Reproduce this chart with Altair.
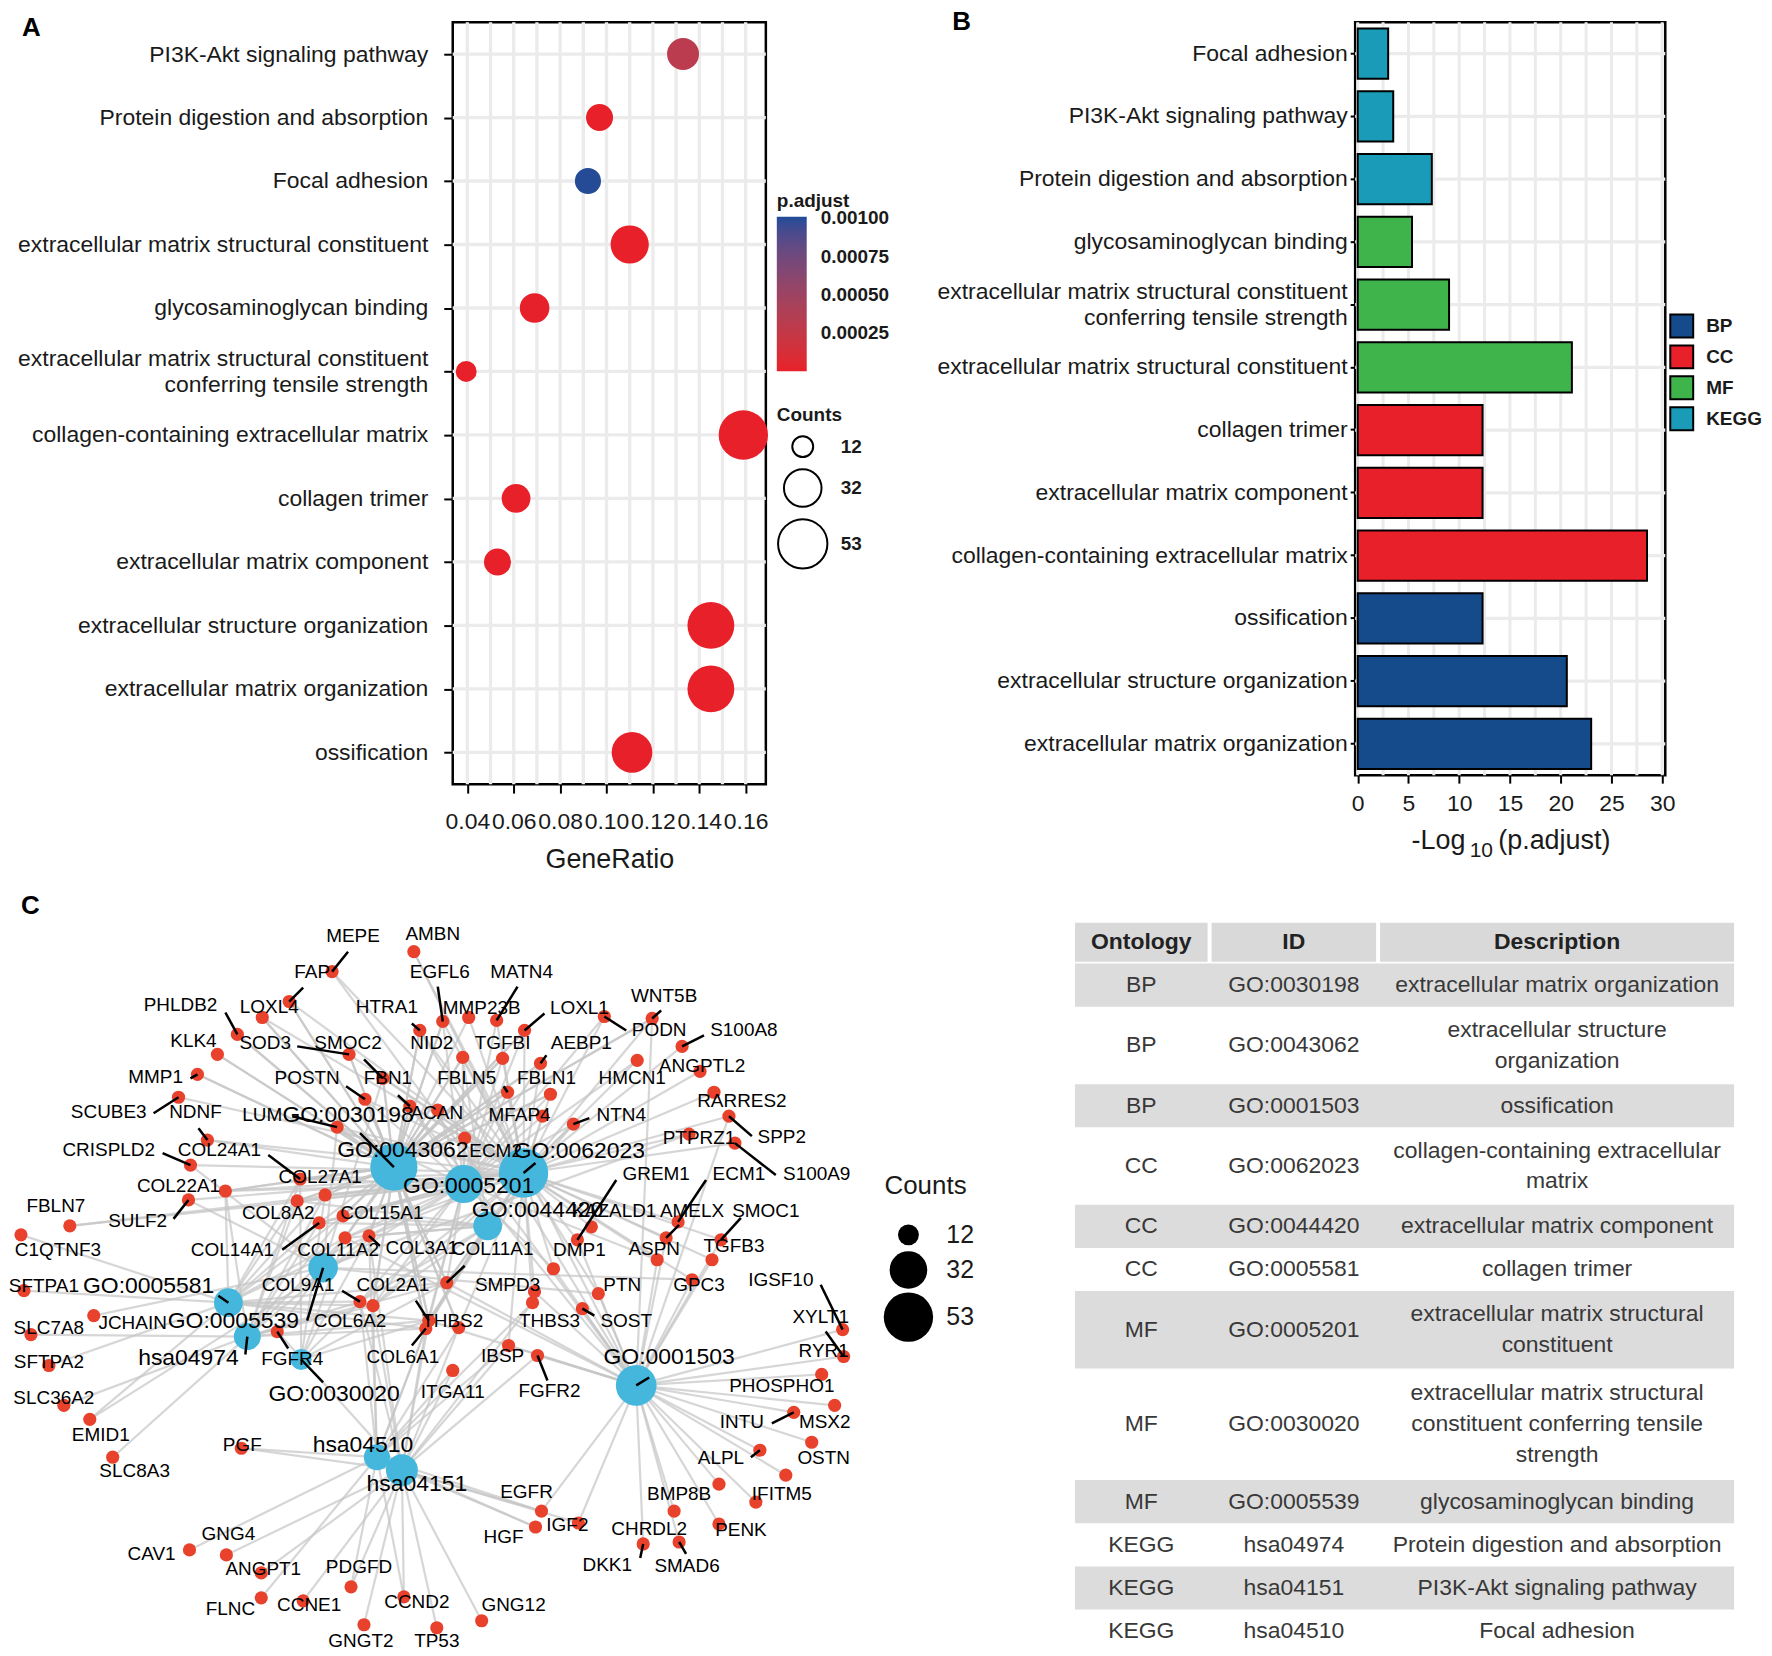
import math
import altair as alt
import pandas as pd

FONT = "Liberation Sans, Arial, Helvetica, sans-serif"
INK = "#1a1a1a"
GRID = "#EBEBEB"

# ======================= Panel A : dot plot =======================
a_terms = [
    "PI3K-Akt signaling pathway",
    "Protein digestion and absorption",
    "Focal adhesion",
    "extracellular matrix structural constituent",
    "glycosaminoglycan binding",
    "extracellular matrix structural constituent\nconferring tensile strength",
    "collagen-containing extracellular matrix",
    "collagen trimer",
    "extracellular matrix component",
    "extracellular structure organization",
    "extracellular matrix organization",
    "ossification",
]
a_gene_ratio = [0.133, 0.097, 0.092, 0.110, 0.069, 0.0395, 0.159, 0.061, 0.053, 0.145, 0.145, 0.111]
a_counts = [24, 18, 17, 33, 21, 12, 53, 20, 18, 48, 48, 37]
a_x_ticks = [0.04, 0.06, 0.08, 0.10, 0.12, 0.14, 0.16]
a_x_grid = [0.04, 0.05, 0.06, 0.07, 0.08, 0.09, 0.10, 0.11, 0.12, 0.13, 0.14, 0.15, 0.16]
a_padj_legend = [0.00025, 0.0005, 0.00075, 0.001]
a_count_legend = [12, 32, 53]

# ======================= Panel B : bar chart =======================
b_terms = [
    "Focal adhesion",
    "PI3K-Akt signaling pathway",
    "Protein digestion and absorption",
    "glycosaminoglycan binding",
    "extracellular matrix structural constituent\nconferring tensile strength",
    "extracellular matrix structural constituent",
    "collagen trimer",
    "extracellular matrix component",
    "collagen-containing extracellular matrix",
    "ossification",
    "extracellular structure organization",
    "extracellular matrix organization",
]
b_neglog = [3.0, 3.5, 7.3, 5.35, 9.0, 21.1, 12.3, 12.3, 28.5, 12.3, 20.6, 23.0]
b_ontology = ["KEGG", "KEGG", "KEGG", "MF", "MF", "MF", "CC", "CC", "CC", "BP", "BP", "BP"]
b_x_ticks = [0, 5, 10, 15, 20, 25, 30]
b_x_grid = [0, 2.5, 5, 7.5, 10, 12.5, 15, 17.5, 20, 22.5, 25, 27.5, 30]
ont_levels = ["BP", "CC", "MF", "KEGG"]
ont_colors = ["#154A8B", "#E8202A", "#3FB44A", "#1A9BB7"]

# ======================= Panel C : gene-concept network =======================
hub_ids = ["GO:0030198", "GO:0043062", "GO:0001503", "GO:0062023", "GO:0044420", "GO:0005581",
           "GO:0005201", "GO:0030020", "GO:0005539", "hsa04974", "hsa04151", "hsa04510"]
hub_codes = ["o", "s", "b", "c", "m", "t", "f", "n", "g", "p", "k", "a"]
hub_x = [384, 384, 627, 514, 478, 218, 454, 291, 313, 237, 392, 367]
hub_y = [1164, 1164, 1383, 1170, 1223, 1300, 1181, 1357, 1265, 1334, 1468, 1455]
hub_counts = [48, 48, 37, 53, 20, 20, 33, 12, 21, 18, 24, 17]
hub_label_x = [338, 393, 660, 570, 528, 138, 459, 324, 223, 178, 407, 353]
hub_label_y = [1112, 1147, 1355, 1148, 1207, 1283, 1183, 1392, 1318, 1356, 1482, 1443]
hub_seg_ids = ["GO:0030198", "GO:0062023", "GO:0005581", "GO:0005539", "hsa04974", "GO:0030020", "GO:0001503"]
hub_seg_x = [350, 526, 208, 297, 235, 313, 640]
hub_seg_y = [1130, 1160, 1293, 1318, 1352, 1380, 1375]

gene_names = ["MEPE", "AMBN", "FAP", "LOXL4", "PHLDB2", "KLK4", "SOD3", "SMOC2", "HTRA1", "EGFL6",
              "NID2", "MMP23B", "MATN4", "LOXL1", "TGFBI", "AEBP1", "WNT5B", "PODN", "S100A8", "HMCN1",
              "ANGPTL2", "FBLN5", "FBLN1", "RARRES2", "ACAN", "MFAP4", "NTN4", "SPP2", "PTPRZ1", "S100A9",
              "GREM1", "KAZALD1", "ECM1", "AMELX", "SMOC1", "TGFB3", "ASPN", "DMP1", "GPC3", "PTN",
              "SOST", "SMPD3", "THBS3", "IBSP", "FGFR2", "THBS2", "COL6A1", "ITGA11", "COL2A1", "COL11A1",
              "COL6A2", "COL9A1", "COL11A2", "COL8A2", "COL14A1", "COL15A1", "COL3A1", "COL27A1", "COL24A1", "CRISPLD2",
              "COL22A1", "SULF2", "FBLN7", "C1QTNF3", "SFTPA1", "SLC7A8", "JCHAIN", "SFTPA2", "SLC36A2", "EMID1",
              "SLC8A3", "FGFR4", "PGF", "GNG4", "CAV1", "ANGPT1", "PDGFD", "FLNC", "CCNE1", "CCND2",
              "GNGT2", "TP53", "GNG12", "EGFR", "HGF", "IGF2", "CHRDL2", "DKK1", "SMAD6", "BMP8B",
              "PENK", "IFITM5", "ALPL", "OSTN", "MSX2", "INTU", "PHOSPHO1", "RYR1", "XYLT1", "IGSF10",
              "SCUBE3", "MMP1", "NDNF", "LUM", "POSTN", "FBN1", "ECM2"]
gene_x = [322, 404, 279, 252, 227, 207, 339, 373, 410, 433,
          453, 459, 487, 515, 493, 531, 643, 595, 673, 628,
          691, 498, 541, 705, 428, 533, 564, 720, 680, 726,
          568, 582, 669, 657, 712, 703, 648, 544, 683, 589,
          573, 525, 523, 499, 528, 449, 416, 443, 419, 437,
          363, 350, 335, 287, 309, 333, 359, 315, 290, 180,
          215, 178, 59, 10, 13, 20, 83, 38, 53, 79,
          102, 267, 231, 216, 179, 251, 341, 251, 293, 394,
          354, 427, 472, 532, 526, 569, 665, 634, 670, 710,
          710, 747, 751, 777, 803, 785, 826, 813, 835, 834,
          168, 187, 197, 327, 355, 400, 455]
gene_y = [968, 948, 998, 1014, 1031, 1051, 1051, 1075, 1027, 1018,
          1054, 1014, 1017, 1027, 1055, 1060, 1015, 1013, 1043, 1057,
          1068, 1089, 1091, 1089, 1107, 1113, 1121, 1113, 1131, 1140,
          1237, 1224, 1219, 1235, 1237, 1257, 1257, 1266, 1277, 1291,
          1306, 1289, 1300, 1343, 1353, 1325, 1326, 1368, 1318, 1280,
          1303, 1299, 1235, 1198, 1220, 1213, 1233, 1192, 1176, 1162,
          1188, 1197, 1223, 1232, 1288, 1332, 1313, 1363, 1403, 1417,
          1455, 1329, 1446, 1553, 1548, 1571, 1585, 1596, 1599, 1595,
          1623, 1626, 1619, 1509, 1525, 1521, 1509, 1542, 1540, 1482,
          1522, 1500, 1448, 1473, 1440, 1410, 1403, 1372, 1354, 1327,
          1094, 1071, 1137, 1124, 1096, 1103, 1135]
gene_label_x = [343, 423, 302, 259, 170, 183, 255, 338, 377, 430,
                422, 472, 512, 570, 493, 572, 655, 650, 735, 623,
                693, 457, 537, 733, 427, 510, 612, 773, 690, 808,
                647, 605, 730, 683, 757, 725, 645, 570, 690, 613,
                617, 498, 540, 493, 540, 443, 393, 443, 383, 483,
                340, 288, 328, 268, 222, 372, 412, 310, 209, 98,
                168, 127, 45, 47, 33, 38, 122, 38, 43, 90,
                124, 282, 232, 218, 141, 253, 349, 220, 299, 407,
                351, 427, 504, 517, 494, 558, 640, 598, 678, 670,
                732, 773, 712, 815, 816, 733, 773, 815, 812, 772,
                98, 145, 185, 252, 297, 378, 486]
gene_label_y = [932, 930, 968, 1004, 1002, 1038, 1040, 1040, 1004, 968,
                1040, 1005, 968, 1005, 1040, 1040, 992, 1027, 1027, 1075,
                1063, 1075, 1075, 1098, 1110, 1112, 1112, 1134, 1135, 1171,
                1171, 1208, 1171, 1208, 1208, 1243, 1246, 1247, 1282, 1282,
                1318, 1282, 1318, 1354, 1389, 1318, 1355, 1390, 1282, 1246,
                1318, 1282, 1247, 1210, 1247, 1210, 1245, 1174, 1147, 1147,
                1183, 1218, 1203, 1247, 1283, 1325, 1320, 1360, 1396, 1433,
                1469, 1357, 1443, 1532, 1552, 1567, 1565, 1607, 1603, 1600,
                1639, 1639, 1603, 1490, 1535, 1523, 1527, 1563, 1564, 1492,
                1528, 1492, 1456, 1456, 1420, 1420, 1384, 1348, 1314, 1277,
                1109, 1074, 1109, 1112, 1075, 1075, 1148]
gene_hubs = ["bc", "bc", "osc", "osc", "os", "os", "osc", "oscg", "oscb", "oscf",
             "oscfm", "oc", "cf", "oscf", "oscf", "oscf", "osbc", "cf", "c", "cf",
             "c", "oscf", "oscf", "c", "oscfg", "cf", "cmf", "bc", "cg", "c",
             "bc", "c", "c", "bc", "bc", "bc", "bcf", "bcf", "bcg", "bcg",
             "b", "bc", "cak", "bcak", "bk", "oscak", "oscmtfpak", "ak", "oscbmtfnpak", "oscbmtfnp",
             "oscmtfpak", "cmtfnpak", "oscbmtfnp", "osmtfp", "ocmtfp", "oscmtfp", "oscmtfnpak", "osctfnp", "osctfnp", "cg",
             "osctfp", "cg", "cf", "t", "t", "p", "g", "t", "p", "tf",
             "p", "gk", "ak", "k", "a", "k", "ak", "a", "k", "ak",
             "k", "k", "k", "akb", "ak", "kb", "b", "b", "b", "b",
             "b", "b", "b", "b", "b", "b", "b", "b", "b", "b",
             "c", "os", "oc", "oscfg", "oscf", "oscfb", "cfm"]
seg_genes = ["MEPE", "FAP", "PHLDB2", "SOD3", "SMOC2", "HTRA1", "EGFL6", "MATN4", "LOXL1", "AEBP1",
             "WNT5B", "PODN", "S100A8", "FBLN5", "NTN4", "SPP2", "S100A9", "GREM1", "ECM1", "AMELX",
             "SMOC1", "SOST", "FGFR2", "COL6A1", "COL2A1", "COL11A1", "COL9A1", "COL14A1", "COL3A1", "COL24A1",
             "CRISPLD2", "SULF2", "FGFR4", "DKK1", "SMAD6", "ALPL", "INTU", "XYLT1", "IGSF10", "SCUBE3",
             "MMP1", "NDNF", "LUM", "POSTN", "FBN1"]
seg_end_x = [338, 293, 215, 287, 354, 402, 428, 508, 535, 537,
             652, 617, 695, 494, 580, 743, 767, 607, 697, 670,
             732, 585, 538, 402, 406, 455, 332, 272, 370, 258,
             152, 163, 278, 631, 677, 742, 763, 817, 812, 143,
             180, 188, 282, 336, 388]
seg_end_y = [948, 984, 1009, 1043, 1056, 1020, 983, 983, 1010, 1052,
             1007, 1027, 1032, 1083, 1115, 1133, 1172, 1177, 1177, 1222,
             1215, 1313, 1378, 1343, 1298, 1263, 1288, 1247, 1243, 1152,
             1150, 1216, 1346, 1556, 1552, 1455, 1421, 1329, 1282, 1110,
             1075, 1125, 1113, 1083, 1092]
c_legend_counts = [12, 32, 53]

# ======================= Table =======================
tbl_ontology = ["BP", "BP", "BP", "CC", "CC", "CC", "MF", "MF", "MF", "KEGG", "KEGG", "KEGG"]
tbl_id = ["GO:0030198", "GO:0043062", "GO:0001503", "GO:0062023", "GO:0044420", "GO:0005581",
          "GO:0005201", "GO:0030020", "GO:0005539", "hsa04974", "hsa04151", "hsa04510"]
tbl_desc = ["extracellular matrix organization",
            "extracellular structure\norganization",
            "ossification",
            "collagen-containing extracellular\nmatrix",
            "extracellular matrix component",
            "collagen trimer",
            "extracellular matrix structural\nconstituent",
            "extracellular matrix structural\nconstituent conferring tensile\nstrength",
            "glycosaminoglycan binding",
            "Protein digestion and absorption",
            "PI3K-Akt signaling pathway",
            "Focal adhesion"]
tbl_headers = ["Ontology", "ID", "Description"]

MULTI = {"condition": {"test": "indexof(datum.value, '\\n') >= 0", "value": -13}, "value": 0}

# ---------------------------------------------------------------------------
# Panel A
# ---------------------------------------------------------------------------
neglog_by_term = dict(zip(b_terms, b_neglog))
dfA = pd.DataFrame({
    "term": a_terms,
    "GeneRatio": a_gene_ratio,
    "Counts": a_counts,
    "padj": [10 ** (-neglog_by_term[t]) for t in a_terms],
})
A_W, A_H = 314, 764

xA = alt.X("GeneRatio:Q",
           scale=alt.Scale(domain=[0.0337, 0.1687], nice=False, zero=False),
           axis=alt.Axis(values=a_x_ticks, format=".2f", labelFontSize=23, labelColor=INK,
                         labelOverlap=False, labelFlush=False, labelPadding=17, tickColor="black",
                         tickSize=9, tickWidth=2, domain=False, grid=False, title="GeneRatio",
                         titleFontSize=27, titleFontWeight="normal", titleColor=INK, titlePadding=14))
yA = alt.Y("term:N", sort=a_terms, scale=alt.Scale(type="point", padding=0.5),
           axis=alt.Axis(labelFontSize=23, labelColor=INK, labelLimit=0, labelPadding=16,
                         labelExpr="split(datum.label, '\\n')", labelLineHeight=26,
                         labelOffset=MULTI,
                         tickColor="black", tickSize=9, tickWidth=2, domain=False, grid=False, title=None))

vgridA = alt.Chart(pd.DataFrame({"GeneRatio": a_x_grid})).mark_rule(color=GRID, strokeWidth=3.3).encode(
    x=alt.X("GeneRatio:Q"))
hgridA = alt.Chart(dfA).mark_rule(color=GRID, strokeWidth=3.3).encode(y=alt.Y("term:N", sort=a_terms))
dotsA = alt.Chart(dfA).mark_circle(opacity=1).encode(
    x=xA, y=yA,
    size=alt.Size("Counts:Q", scale=alt.Scale(domain=[12, 53], range=[440, 2450], zero=False),
                  legend=alt.Legend(orient="none", legendX=325, legendY=385, title="Counts",
                                    values=a_count_legend, titleFontSize=19, titleFontWeight="bold",
                                    titleColor=INK, labelFontSize=19, labelFontWeight="bold",
                                    labelColor=INK, symbolFillColor="white", symbolStrokeColor="black",
                                    symbolStrokeWidth=2, labelOffset=12, rowPadding=4, titlePadding=10)),
    color=alt.Color("padj:Q",
                    scale=alt.Scale(domain=[0, 0.00101], range=["#E8202A", "#1E4B98"], interpolate="lab"),
                    legend=alt.Legend(orient="none", legendX=325, legendY=170, title="p.adjust",
                                      values=a_padj_legend, format=".5f", titleFontSize=19,
                                      titleFontWeight="bold", titleColor=INK, labelFontSize=19,
                                      labelFontWeight="bold", labelColor=INK, gradientLength=155,
                                      gradientThickness=30, gradientStrokeWidth=0, labelOffset=14,
                                      titlePadding=6, direction="vertical")),
    order=alt.Order("Counts:Q"),
)
letterA = alt.Chart(pd.DataFrame({"t": ["A"]})).mark_text(
    font=FONT, fontSize=26, fontWeight="bold", align="left", baseline="middle", color="black"
).encode(x=alt.value(-432), y=alt.value(6), text="t:N")

chartA = alt.layer(vgridA, hgridA, dotsA, letterA).properties(
    width=A_W, height=A_H, view=alt.ViewBackground(stroke="black", strokeWidth=2.5))

# ---------------------------------------------------------------------------
# Panel B
# ---------------------------------------------------------------------------
dfB = pd.DataFrame({"term": b_terms, "neglog": b_neglog, "Ontology": b_ontology})
B_W, B_H = 311, 755

xB = alt.X("neglog:Q", scale=alt.Scale(domain=[-0.25, 30.3], nice=False, zero=False),
           axis=alt.Axis(values=b_x_ticks, labelFontSize=23, labelColor=INK, labelFlush=False,
                         labelOverlap=False, labelPadding=9, tickColor="black", tickSize=8,
                         tickWidth=2, domain=False, grid=False, title=None))
yB = alt.Y("term:N", sort=b_terms, scale=alt.Scale(paddingInner=0.2, paddingOuter=0.1),
           axis=alt.Axis(labelFontSize=23, labelColor=INK, labelLimit=0, labelPadding=3,
                         labelExpr="split(datum.label, '\\n')", labelLineHeight=26,
                         labelOffset=MULTI,
                         tickColor="black", tickSize=5, tickWidth=2, domain=False, grid=False, title=None))

vgridB = alt.Chart(pd.DataFrame({"neglog": b_x_grid})).mark_rule(color=GRID, strokeWidth=3).encode(
    x=alt.X("neglog:Q"))
hgridB = alt.Chart(dfB).mark_rule(color=GRID, strokeWidth=3.3).encode(
    y=alt.Y("term:N", sort=b_terms, bandPosition=0.5))
barsB = alt.Chart(dfB).mark_bar(stroke="black", strokeWidth=2).encode(
    x=xB, x2=alt.datum(0), y=yB,
    color=alt.Color("Ontology:N", scale=alt.Scale(domain=ont_levels, range=ont_colors),
                    legend=alt.Legend(orient="none", legendX=315, legendY=292, title=None,
                                      symbolType="square", symbolSize=529, symbolStrokeColor="black",
                                      symbolStrokeWidth=2, labelFontSize=19, labelFontWeight="bold",
                                      labelColor=INK, labelOffset=12, rowPadding=0)),
)
letterB = alt.Chart(pd.DataFrame({"t": ["B"]})).mark_text(
    font=FONT, fontSize=26, fontWeight="bold", align="left", baseline="middle", color="black"
).encode(x=alt.value(-404), y=alt.value(0), text="t:N")
tB1 = alt.Chart(pd.DataFrame({"t": ["-Log"]})).mark_text(
    font=FONT, fontSize=27, align="right", baseline="middle", color=INK
).encode(x=alt.value(B_W / 2 - 45), y=alt.value(B_H + 66), text="t:N")
tB2 = alt.Chart(pd.DataFrame({"t": ["10"]})).mark_text(
    font=FONT, fontSize=21, align="center", baseline="middle", color=INK
).encode(x=alt.value(B_W / 2 - 29), y=alt.value(B_H + 76), text="t:N")
tB3 = alt.Chart(pd.DataFrame({"t": ["(p.adjust)"]})).mark_text(
    font=FONT, fontSize=27, align="left", baseline="middle", color=INK
).encode(x=alt.value(B_W / 2 - 12), y=alt.value(B_H + 66), text="t:N")

chartB = alt.layer(vgridB, hgridB, barsB, letterB, tB1, tB2, tB3).properties(
    width=B_W, height=B_H, view=alt.ViewBackground(stroke="black", strokeWidth=2.5))

# ---------------------------------------------------------------------------
# Panel C : network  (its view origin is aligned with panel A's plot origin)
# ---------------------------------------------------------------------------
NX = [443, 860]
NY = [890, 1642]
C_W, C_H = NX[1] - NX[0], NY[1] - NY[0]


def nx(field):
    return alt.X(f"{field}:Q", scale=alt.Scale(domain=NX, nice=False, zero=False), axis=None)


def ny(field):
    return alt.Y(f"{field}:Q", scale=alt.Scale(domain=NY, nice=False, zero=False, reverse=True), axis=None)


hubs = pd.DataFrame({"id": hub_ids, "code": hub_codes, "x": hub_x, "y": hub_y, "count": hub_counts,
                     "lx": hub_label_x, "ly": hub_label_y})
genes = pd.DataFrame({"gene": gene_names, "x": gene_x, "y": gene_y, "lx": gene_label_x,
                      "ly": gene_label_y, "hubs": gene_hubs})
hub_pos = {c: (x, y) for c, x, y in zip(hub_codes, hub_x, hub_y)}
edge_rows = []
for g, gx, gy, codes in zip(gene_names, gene_x, gene_y, gene_hubs):
    for c in codes:
        hx, hy = hub_pos[c]
        edge_rows.append({"gene": g, "x": gx, "y": gy, "x2": hx, "y2": hy})
edges = pd.DataFrame(edge_rows)

gpos = {g: (x, y) for g, x, y in zip(gene_names, gene_x, gene_y)}
hpos = {h: (x, y) for h, x, y in zip(hub_ids, hub_x, hub_y)}
seg_rows = [{"x": gpos[g][0], "y": gpos[g][1], "x2": sx, "y2": sy}
            for g, sx, sy in zip(seg_genes, seg_end_x, seg_end_y)]
seg_rows += [{"x": hpos[h][0], "y": hpos[h][1], "x2": sx, "y2": sy}
             for h, sx, sy in zip(hub_seg_ids, hub_seg_x, hub_seg_y)]
segs = pd.DataFrame(seg_rows)

size_scale_C = alt.Scale(domain=[12, 53], range=[615, 2124], zero=False)

edge_layer = alt.Chart(edges).mark_rule(color="#C4C4C4", strokeWidth=2.2, opacity=0.7).encode(
    x=nx("x"), y=ny("y"), x2="x2:Q", y2="y2:Q")
hub_layer = alt.Chart(hubs).mark_circle(color="#45B7DC", opacity=1).encode(
    x=nx("x"), y=ny("y"), size=alt.Size("count:Q", scale=size_scale_C, legend=None))
gene_layer = alt.Chart(genes).mark_circle(color="#E8412C", opacity=1, size=175).encode(
    x=nx("x"), y=ny("y"))
seg_layer = alt.Chart(segs).mark_rule(color="black", strokeWidth=2.5).encode(
    x=nx("x"), y=ny("y"), x2="x2:Q", y2="y2:Q")
gene_text = alt.Chart(genes).mark_text(font=FONT, fontSize=19, color="black", baseline="middle").encode(
    x=nx("lx"), y=ny("ly"), text="gene:N")
hub_text = alt.Chart(hubs).mark_text(font=FONT, fontSize=23, color="black", baseline="middle").encode(
    x=nx("lx"), y=ny("ly"), text="id:N")
letterC = alt.Chart(pd.DataFrame({"t": ["C"], "x": [10], "y": [902]})).mark_text(
    font=FONT, fontSize=26, fontWeight="bold", align="left", baseline="middle", color="black"
).encode(x=nx("x"), y=ny("y"), text="t:N")


def _diam(c):
    lo, hi = 615, 2124
    area = lo + (hi - lo) * (c - 12) / (53 - 12)
    return 2 * math.sqrt(area / math.pi)


leg_y = []
cur = 1232.0
for i, c in enumerate(c_legend_counts):
    if i > 0:
        cur += _diam(c_legend_counts[i - 1]) / 2 + _diam(c) / 2 + 0.5
    leg_y.append(cur)
legC = pd.DataFrame({"count": c_legend_counts, "y": leg_y, "x": [900] * 3, "lx": [938] * 3,
                     "lab": [str(c) for c in c_legend_counts]})
legC_circles = alt.Chart(legC).mark_circle(color="black", opacity=1).encode(
    x=nx("x"), y=ny("y"), size=alt.Size("count:Q", scale=size_scale_C, legend=None))
legC_labels = alt.Chart(legC).mark_text(font=FONT, fontSize=25, align="left", baseline="middle",
                                        color=INK).encode(x=nx("lx"), y=ny("y"), text="lab:N")
legC_title = alt.Chart(pd.DataFrame({"t": ["Counts"], "x": [876], "y": [1183]})).mark_text(
    font=FONT, fontSize=26, align="left", baseline="middle", color=INK
).encode(x=nx("x"), y=ny("y"), text="t:N")

chartC = alt.layer(edge_layer, hub_layer, gene_layer, seg_layer, gene_text, hub_text, letterC,
                   legC_circles, legC_labels, legC_title).properties(width=C_W, height=C_H)

# ---------------------------------------------------------------------------
# Table
# ---------------------------------------------------------------------------
TX = [1074, 1735]
T_W = TX[1] - TX[0]
col_edges = [(1074, 1207), (1211, 1376), (1380, 1735)]
HEADER_TOP, HEADER_H = 919, 39
ROW_TOP, ROW_PAD, LINE_H = 960, 9, 34.3
TEXT_LH = 31


def tx(field):
    return alt.X(f"{field}:Q", scale=alt.Scale(domain=TX, nice=False, zero=False), axis=None)


def ty(field):
    return alt.Y(f"{field}:Q", scale=alt.Scale(domain=NY, nice=False, zero=False, reverse=True), axis=None)


rows = []
cur = ROW_TOP
for i, (o, gid, d) in enumerate(zip(tbl_ontology, tbl_id, tbl_desc)):
    n = d.count("\n") + 1
    h = ROW_PAD + LINE_H * n
    rows.append({"i": i, "y0": cur, "y1": cur + h, "ym": cur + h / 2, "shade": i % 2 == 0})
    cur += h
rows_df = pd.DataFrame(rows)
stripes = rows_df[rows_df["shade"]].assign(x0=TX[0], x1=TX[1])

header_df = pd.DataFrame({
    "t": tbl_headers,
    "x0": [c[0] for c in col_edges], "x1": [c[1] for c in col_edges],
    "xm": [(c[0] + c[1]) / 2 for c in col_edges],
    "y0": [HEADER_TOP] * 3, "y1": [HEADER_TOP + HEADER_H] * 3,
    "ym": [HEADER_TOP + HEADER_H / 2] * 3,
})
cell_rows = []
for r, o, gid, d in zip(rows, tbl_ontology, tbl_id, tbl_desc):
    for (c0, c1), txt in zip(col_edges, [o, gid, d]):
        n = txt.count("\n") + 1
        cell_rows.append({"x": (c0 + c1) / 2, "y": r["ym"] - (n - 1) * TEXT_LH / 2, "t": txt})
cells = pd.DataFrame(cell_rows)

stripe_layer = alt.Chart(stripes).mark_rect(color="#DCDCDC").encode(
    x=tx("x0"), x2="x1:Q", y=ty("y0"), y2="y1:Q")
header_rect = alt.Chart(header_df).mark_rect(color="#D9D9D9").encode(
    x=tx("x0"), x2="x1:Q", y=ty("y0"), y2="y1:Q")
header_text = alt.Chart(header_df).mark_text(font=FONT, fontSize=23, fontWeight="bold",
                                             color="#222222", baseline="middle").encode(
    x=tx("xm"), y=ty("ym"), text="t:N")
cell_text = alt.Chart(cells).mark_text(font=FONT, fontSize=23, color="#383838", baseline="middle",
                                       lineBreak="\n", lineHeight=TEXT_LH).encode(
    x=tx("x"), y=ty("y"), text="t:N")

chartT = alt.layer(stripe_layer, header_rect, header_text, cell_text).properties(width=T_W, height=C_H)

# ---------------------------------------------------------------------------
top = alt.hconcat(chartA, chartB, spacing=44)
bottom = alt.hconcat(chartC, chartT, spacing=101)
chart = alt.vconcat(top, bottom, spacing=17).properties(
    padding={"left": 0, "top": -3, "right": 0, "bottom": 0}, background="white"
).configure(font=FONT).configure_view(stroke=None).configure_axis(
    labelFont=FONT, titleFont=FONT
).configure_legend(
    labelFont=FONT, titleFont=FONT, symbolBaseFillColor="white", symbolBaseStrokeColor="black"
)

chart.save("out.html", embed_options={"renderer": "svg", "actions": False})
